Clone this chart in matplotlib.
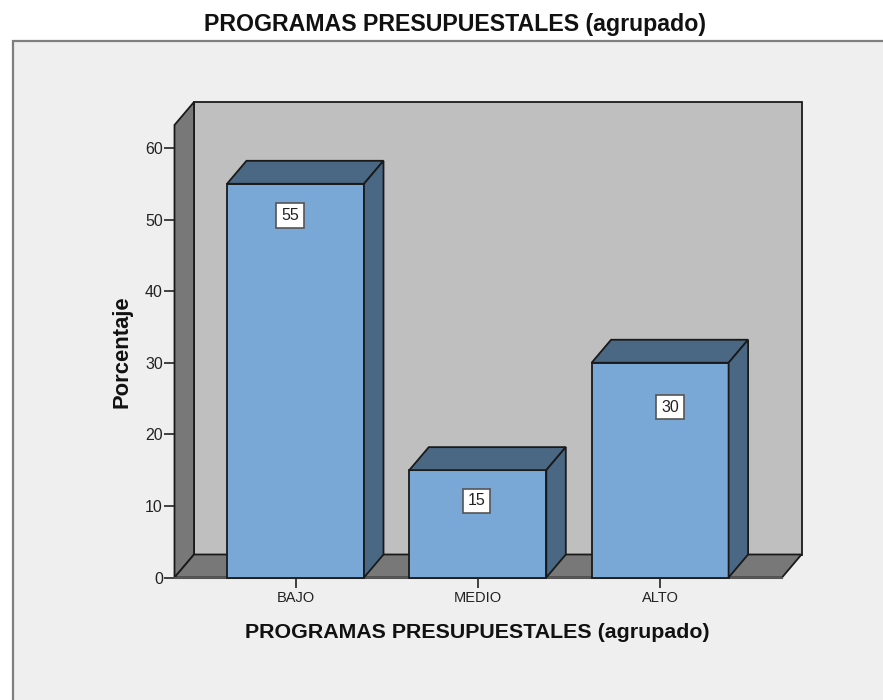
import matplotlib
matplotlib.use("Agg")
import matplotlib.pyplot as plt
from matplotlib.patches import Polygon, Rectangle

categories = ["BAJO", "MEDIO", "ALTO"]
values = [55, 15, 30]
y_ticks = [0, 10, 20, 30, 40, 50, 60]
title = "PROGRAMAS PRESUPUESTALES (agrupado)"
y_label = "Porcentaje"

W, H = 883, 700
BLUE, DARK, WALL, FLOOR = "#7aa8d6", "#4a6784", "#bfbfbf", "#787878"
EDGE = "#1a1a1a"
plt.rcParams["font.family"] = ["Liberation Sans", "DejaVu Sans"]

fig = plt.figure(figsize=(W / 100, H / 100), dpi=100, facecolor="white")

# page panel behind the chart (open on right/bottom)
bg = fig.add_axes([0, 0, 1, 1], zorder=0)
bg.set_xlim(0, W); bg.set_ylim(H, 0); bg.axis("off")
bg.add_patch(Rectangle((12.5, 40.5), W, H, fc="#efefef", ec="#7f7f7f", lw=1.6))

# plot axes: front plane of the 3-D box
left, right, y0, ytop = 174.5, 782.0, 577.5, 125.0
ax = fig.add_axes([left / W, 1 - y0 / H, (right - left) / W, (y0 - ytop) / H], zorder=1)
px_x = 182.3                     # pixels per category step
px_y = (y0 - 148.0) / 60         # pixels per percent
x0 = -(295.5 - left) / px_x
ax.set_xlim(x0, x0 + (right - left) / px_x)
ax.set_ylim(0, (y0 - ytop) / px_y)
ax.patch.set_visible(False)
for s in ax.spines.values():
    s.set_visible(False)

dx, dy = 19.5 / px_x, 23.0 / px_y
xa, xb = ax.get_xlim()
ya, yb = ax.get_ylim()
kw = dict(ec=EDGE, lw=1.3, joinstyle="miter", clip_on=False)

def poly(pts, fc, z):
    ax.add_patch(Polygon(pts, closed=True, fc=fc, zorder=z, **kw))

poly([(xa + dx, ya + dy), (xb + dx, ya + dy), (xb + dx, yb + dy), (xa + dx, yb + dy)], WALL, 1)
poly([(xa, ya), (xa + dx, ya + dy), (xa + dx, yb + dy), (xa, yb)], FLOOR, 2)
poly([(xa, ya), (xb, ya), (xb + dx, ya + dy), (xa + dx, ya + dy)], FLOOR, 2)

bw = 137.0 / px_x
label_drop = [4.4, 4.3, 6.2]
label_shift = [-5.5, -1.5, 10.0]
for i, v in enumerate(values):
    a, b = i - bw / 2, i + bw / 2
    poly([(a, 0), (b, 0), (b, v), (a, v)], BLUE, 3)
    poly([(a, v), (b, v), (b + dx, v + dy), (a + dx, v + dy)], DARK, 3)
    poly([(b, 0), (b + dx, dy), (b + dx, v + dy), (b, v)], DARK, 3)
    ax.text(i + label_shift[i] / px_x, v - label_drop[i], str(v), ha="center", va="center",
            fontsize=11.5, color="#222222", zorder=5,
            bbox=dict(boxstyle="square,pad=0.3", fc="white", ec="#555555", lw=1.2))

ax.set_xticks(range(len(categories)), categories)
ax.set_yticks(y_ticks)
ax.tick_params(axis="x", length=7.5, width=1.3, color="#333333", labelsize=10.5,
               labelcolor="#222222", pad=2.5)
ax.tick_params(axis="y", length=8, width=1.3, color="#333333", labelsize=11.5,
               labelcolor="#222222", pad=0.3)
ax.plot([xa, xb], [0, 0], color="#555555", lw=1.5, clip_on=False, zorder=2.5)

fig.text(455 / W, 1 - 25 / H, title, ha="center", va="center", fontsize=16.7, fontweight="bold", color="#111111")
fig.text(477.5 / W, 1 - 632 / H, title, ha="center", va="center", fontsize=15.4, fontweight="bold", color="#111111")
fig.text(122 / W, 1 - 351.5 / H, y_label, ha="center", va="center", rotation=90, fontsize=15.8,
         fontweight="bold", color="#111111")

fig.savefig("out.png", dpi=100)
